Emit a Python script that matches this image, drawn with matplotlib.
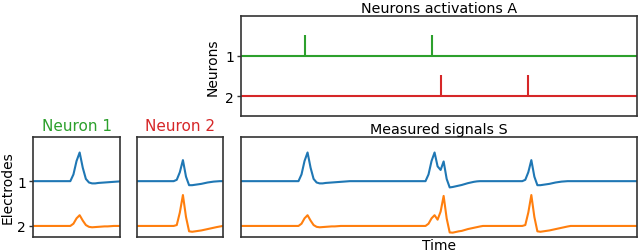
import matplotlib
matplotlib.use('Agg')
import matplotlib.pyplot as plt
import numpy as np

# activation times (samples) for each neuron
n_samples = 132
spikes_n1 = [21, 63]
spikes_n2 = [66, 95]
lag = 1

# waveforms (29 samples, peak at index 15), per electrode
wave_n1_e1 = [0, 0, 0, 0, 0, 0, 0, 0, 0, 0, 0, 0, 0, 0.15, 0.45, 0.64, 0.30, 0.05,
              -0.03, -0.05, -0.05, -0.04, -0.035, -0.03, -0.025, -0.02, -0.015, -0.01, -0.005]
wave_n1_e2 = [0, 0, 0, 0, 0, 0, 0, 0, 0, 0, 0, 0, 0, 0.05, 0.17, 0.24, 0.12, 0.02,
              -0.02, -0.03, -0.025, -0.02, -0.015, -0.01, -0.01, -0.005, 0, 0, 0]
wave_n2_e1 = [0, 0, 0, 0, 0, 0, 0, 0, 0, 0, 0, 0, 0, 0.03, 0.20, 0.47, 0.10, -0.09,
              -0.09, -0.08, -0.07, -0.06, -0.045, -0.03, -0.02, -0.01, -0.005, 0, 0]
wave_n2_e2 = [0, 0, 0, 0, 0, 0, 0, 0, 0, 0, 0, 0, 0, 0.02, 0.30, 0.69, 0.20, -0.12,
              -0.13, -0.12, -0.11, -0.10, -0.085, -0.07, -0.055, -0.04, -0.025, -0.012, 0]
peak_idx = 15

blue = '#1f77b4'
orange = '#ff7f0e'
green = '#2ca02c'
red = '#d62728'
spine_col = '#333333'


def build_signal(waves_spikes):
    s = np.zeros(n_samples)
    for wave, spikes in waves_spikes:
        w = np.array(wave)
        for t in spikes:
            start = t + lag - peak_idx
            for i, v in enumerate(w):
                if 0 <= start + i < n_samples:
                    s[start + i] += v
    return s


sig_e1 = build_signal([(wave_n1_e1, spikes_n1), (wave_n2_e1, spikes_n2)])
sig_e2 = build_signal([(wave_n1_e2, spikes_n1), (wave_n2_e2, spikes_n2)])


def style(ax):
    for sp in ax.spines.values():
        sp.set_color(spine_col)
        sp.set_linewidth(1.2)
    ax.set_xticks([])
    ax.tick_params(axis='y', length=3, width=1, color=spine_col, labelsize=10, pad=2)


fig = plt.figure(figsize=(6.4, 2.53), dpi=100)

ax_a = fig.add_axes([0.3766, 0.5364, 0.619, 0.3953])
ax_s = fig.add_axes([0.3766, 0.0605, 0.619, 0.393])
ax_w1 = fig.add_axes([0.0516, 0.0605, 0.136, 0.393])
ax_w2 = fig.add_axes([0.2136, 0.0605, 0.1348, 0.393])

# activations
t_all = np.arange(n_samples)
ax_a.plot([0, n_samples - 1], [1, 1], color=green, lw=1.5)
ax_a.plot([0, n_samples - 1], [2, 2], color=red, lw=1.5)
ax_a.vlines(spikes_n1, 1, 1 - 0.52, color=green, lw=1.5)
ax_a.vlines(spikes_n2, 2, 2 - 0.52, color=red, lw=1.5)
ax_a.set_xlim(0, n_samples - 1)
ax_a.set_ylim(2.5, 0.02)
ax_a.set_yticks([1, 2])
ax_a.set_ylabel('Neurons', fontsize=10, labelpad=4)
ax_a.set_title('Neurons activations A', fontsize=10.3, pad=3)
style(ax_a)

# measured signals
ax_s.plot(t_all, 1 - sig_e1, color=blue, lw=1.5)
ax_s.plot(t_all, 2 - sig_e2, color=orange, lw=1.5)
ax_s.set_xlim(0, n_samples - 1)
ax_s.set_ylim(2.24, 0.02)
ax_s.set_yticks([])
ax_s.set_xlabel('Time', fontsize=10, labelpad=1)
ax_s.set_title('Measured signals S', fontsize=10.3, pad=3)
style(ax_s)

# waveforms
t_w = np.arange(len(wave_n1_e1))
ax_w1.plot(t_w, 1 - np.array(wave_n1_e1), color=blue, lw=1.5)
ax_w1.plot(t_w, 2 - np.array(wave_n1_e2), color=orange, lw=1.5)
ax_w2.plot(t_w, 1 - np.array(wave_n2_e1), color=blue, lw=1.5)
ax_w2.plot(t_w, 2 - np.array(wave_n2_e2), color=orange, lw=1.5)
for ax in (ax_w1, ax_w2):
    ax.set_xlim(0, len(wave_n1_e1) - 1)
    ax.set_ylim(2.24, 0.02)
    style(ax)
ax_w1.set_yticks([1, 2])
ax_w2.set_yticks([])
ax_w1.set_ylabel('Electrodes', fontsize=10, labelpad=2)
ax_w1.set_title('Neuron 1', color=green, fontsize=11, pad=5)
ax_w2.set_title('Neuron 2', color=red, fontsize=11, pad=5)

fig.savefig('out.png', dpi=100)
